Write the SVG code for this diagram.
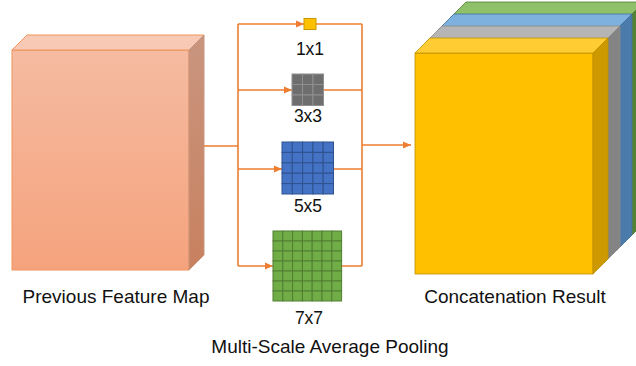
<svg xmlns="http://www.w3.org/2000/svg" width="636" height="366" viewBox="0 0 636 366">
<style>
.lbl{font-family:"Liberation Sans",Arial,sans-serif;font-size:19px;fill:#111;text-anchor:middle}
.sm{font-size:17.5px}
.con{stroke:#ED7D31;stroke-width:1.6;fill:none}
.pf{stroke:#F0935A;stroke-width:1}
.gray rect{fill:#6E6E6E;stroke:#8F8F8F;stroke-width:1}
.blue rect{fill:#4472C4;stroke:#2F528F;stroke-width:1}
.green rect{fill:#70AD47;stroke:#507E32;stroke-width:1}
</style>
<defs>
<linearGradient id="gf" x1="0" y1="0" x2="0" y2="1">
<stop offset="0" stop-color="#F5BBA1"/><stop offset="1" stop-color="#F5A37D"/>
</linearGradient>
<linearGradient id="gs" x1="0" y1="0" x2="0" y2="1">
<stop offset="0" stop-color="#C9957F"/><stop offset="1" stop-color="#C8815F"/>
</linearGradient>
<marker id="ah" viewBox="0 0 8 8" refX="8" refY="4" markerWidth="8" markerHeight="8" markerUnits="userSpaceOnUse" orient="auto">
<path d="M0,0.5 L8,4 L0,7.5 Z" fill="#ED7D31"/>
</marker>
</defs>

<g id="prev-map">
<rect x="12" y="50" width="177" height="220" fill="url(#gf)" class="pf"/>
<polygon points="12,50 27,35 204,35 189,50" fill="#F8CAB5" class="pf"/>
<polygon points="189,50 204,35 204,255 189,270" fill="url(#gs)" stroke="#C9957F" stroke-width="1"/>
<text class="lbl" x="116" y="303">Previous Feature Map</text>
</g>

<g id="connectors">
<path class="con" d="M204,146 H238 M238,24 V266 M362,24 V266"/>
<path class="con" d="M238,24 H304" marker-end="url(#ah)"/>
<path class="con" d="M238,90 H292" marker-end="url(#ah)"/>
<path class="con" d="M238,169 H282" marker-end="url(#ah)"/>
<path class="con" d="M238,266 H273" marker-end="url(#ah)"/>
<path class="con" d="M316,24 H362 M323,90 H362 M333,169 H362 M341,266 H362"/>
<path class="con" d="M362,145 H411" marker-end="url(#ah)"/>
</g>

<g id="pool-1x1">
<rect x="304" y="18.5" width="12" height="11" fill="#FFC000" stroke="#C99A00" stroke-width="1"/>
<text class="lbl sm" x="310" y="55">1x1</text>
</g>

<g id="pool-3x3" class="gray">
<rect x="292" y="74" width="10.5" height="10.5"/><rect x="302.5" y="74" width="10.5" height="10.5"/><rect x="313" y="74" width="10.5" height="10.5"/>
<rect x="292" y="84.5" width="10.5" height="10.5"/><rect x="302.5" y="84.5" width="10.5" height="10.5"/><rect x="313" y="84.5" width="10.5" height="10.5"/>
<rect x="292" y="95" width="10.5" height="10.5"/><rect x="302.5" y="95" width="10.5" height="10.5"/><rect x="313" y="95" width="10.5" height="10.5"/>
<text class="lbl sm" x="308" y="122" style="fill:#111;stroke:none">3x3</text>
</g>

<g id="pool-5x5" class="blue">
<rect x="282" y="142" width="10.3" height="10.4"/><rect x="292.3" y="142" width="10.3" height="10.4"/><rect x="302.6" y="142" width="10.3" height="10.4"/><rect x="312.9" y="142" width="10.3" height="10.4"/><rect x="323.2" y="142" width="10.3" height="10.4"/>
<rect x="282" y="152.4" width="10.3" height="10.4"/><rect x="292.3" y="152.4" width="10.3" height="10.4"/><rect x="302.6" y="152.4" width="10.3" height="10.4"/><rect x="312.9" y="152.4" width="10.3" height="10.4"/><rect x="323.2" y="152.4" width="10.3" height="10.4"/>
<rect x="282" y="162.8" width="10.3" height="10.4"/><rect x="292.3" y="162.8" width="10.3" height="10.4"/><rect x="302.6" y="162.8" width="10.3" height="10.4"/><rect x="312.9" y="162.8" width="10.3" height="10.4"/><rect x="323.2" y="162.8" width="10.3" height="10.4"/>
<rect x="282" y="173.2" width="10.3" height="10.4"/><rect x="292.3" y="173.2" width="10.3" height="10.4"/><rect x="302.6" y="173.2" width="10.3" height="10.4"/><rect x="312.9" y="173.2" width="10.3" height="10.4"/><rect x="323.2" y="173.2" width="10.3" height="10.4"/>
<rect x="282" y="183.6" width="10.3" height="10.4"/><rect x="292.3" y="183.6" width="10.3" height="10.4"/><rect x="302.6" y="183.6" width="10.3" height="10.4"/><rect x="312.9" y="183.6" width="10.3" height="10.4"/><rect x="323.2" y="183.6" width="10.3" height="10.4"/>
<text class="lbl sm" x="308" y="212" style="fill:#111;stroke:none">5x5</text>
</g>

<g id="pool-7x7" class="green">
<rect x="273" y="231" width="9.8" height="10"/><rect x="282.8" y="231" width="9.8" height="10"/><rect x="292.6" y="231" width="9.8" height="10"/><rect x="302.4" y="231" width="9.8" height="10"/><rect x="312.2" y="231" width="9.8" height="10"/><rect x="322" y="231" width="9.8" height="10"/><rect x="331.8" y="231" width="9.8" height="10"/>
<rect x="273" y="241" width="9.8" height="10"/><rect x="282.8" y="241" width="9.8" height="10"/><rect x="292.6" y="241" width="9.8" height="10"/><rect x="302.4" y="241" width="9.8" height="10"/><rect x="312.2" y="241" width="9.8" height="10"/><rect x="322" y="241" width="9.8" height="10"/><rect x="331.8" y="241" width="9.8" height="10"/>
<rect x="273" y="251" width="9.8" height="10"/><rect x="282.8" y="251" width="9.8" height="10"/><rect x="292.6" y="251" width="9.8" height="10"/><rect x="302.4" y="251" width="9.8" height="10"/><rect x="312.2" y="251" width="9.8" height="10"/><rect x="322" y="251" width="9.8" height="10"/><rect x="331.8" y="251" width="9.8" height="10"/>
<rect x="273" y="261" width="9.8" height="10"/><rect x="282.8" y="261" width="9.8" height="10"/><rect x="292.6" y="261" width="9.8" height="10"/><rect x="302.4" y="261" width="9.8" height="10"/><rect x="312.2" y="261" width="9.8" height="10"/><rect x="322" y="261" width="9.8" height="10"/><rect x="331.8" y="261" width="9.8" height="10"/>
<rect x="273" y="271" width="9.8" height="10"/><rect x="282.8" y="271" width="9.8" height="10"/><rect x="292.6" y="271" width="9.8" height="10"/><rect x="302.4" y="271" width="9.8" height="10"/><rect x="312.2" y="271" width="9.8" height="10"/><rect x="322" y="271" width="9.8" height="10"/><rect x="331.8" y="271" width="9.8" height="10"/>
<rect x="273" y="281" width="9.8" height="10"/><rect x="282.8" y="281" width="9.8" height="10"/><rect x="292.6" y="281" width="9.8" height="10"/><rect x="302.4" y="281" width="9.8" height="10"/><rect x="312.2" y="281" width="9.8" height="10"/><rect x="322" y="281" width="9.8" height="10"/><rect x="331.8" y="281" width="9.8" height="10"/>
<rect x="273" y="291" width="9.8" height="10"/><rect x="282.8" y="291" width="9.8" height="10"/><rect x="292.6" y="291" width="9.8" height="10"/><rect x="302.4" y="291" width="9.8" height="10"/><rect x="312.2" y="291" width="9.8" height="10"/><rect x="322" y="291" width="9.8" height="10"/><rect x="331.8" y="291" width="9.8" height="10"/>
<text class="lbl sm" x="309" y="324" style="fill:#111;stroke:none">7x7</text>
</g>

<g id="concat-result">
<g stroke="#507E32" stroke-width="0.8">
<rect x="451" y="17" width="178" height="221" fill="#70AD47"/>
<polygon points="451,17 466,2 644,2 629,17" fill="#8FC06A"/>
<polygon points="629,17 644,2 644,223 629,238" fill="#548235"/>
</g>
<g stroke="#41719C" stroke-width="0.8">
<rect x="439" y="29" width="178" height="221" fill="#5B9BD5"/>
<polygon points="439,29 454,14 632,14 617,29" fill="#7EB1DE"/>
<polygon points="617,29 632,14 632,235 617,250" fill="#4A7BAA"/>
</g>
<g stroke="#8A8A8A" stroke-width="0.8">
<rect x="427" y="41" width="178" height="221" fill="#A5A5A5"/>
<polygon points="427,41 442,26 620,26 605,41" fill="#B5B5B5"/>
<polygon points="605,41 620,26 620,247 605,262" fill="#848484"/>
</g>
<g stroke="#BF9000" stroke-width="0.8">
<rect x="415" y="53" width="178" height="221" fill="#FFC000"/>
<polygon points="415,53 430,38 608,38 593,53" fill="#FFCD33"/>
<polygon points="593,53 608,38 608,259 593,274" fill="#CC9A00"/>
</g>
<text class="lbl" x="515" y="303">Concatenation Result</text>
</g>

<g id="caption">
<text class="lbl" x="330" y="353">Multi-Scale Average Pooling</text>
</g>
</svg>
